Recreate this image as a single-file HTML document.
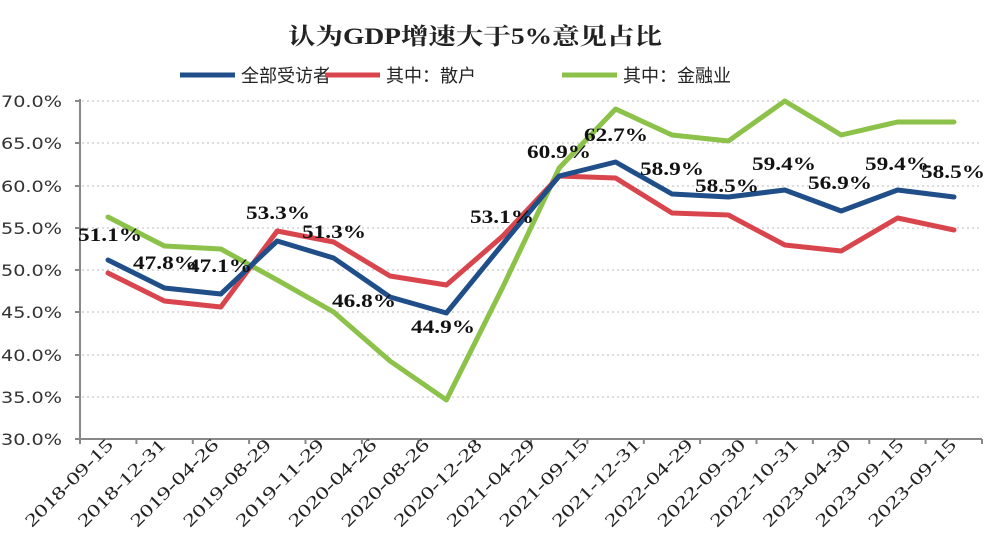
<!DOCTYPE html>
<html><head><meta charset="utf-8"><style>body{margin:0;background:#fff}</style></head><body>
<svg width="996" height="552" xmlns="http://www.w3.org/2000/svg">
<rect width="996" height="552" fill="#fff"/>
<text x="288" y="44" textLength="374" lengthAdjust="spacingAndGlyphs" font-family="Liberation Serif, Noto Serif CJK SC, serif" font-weight="bold" font-size="23" fill="#222">认为GDP增速大于5%意见占比</text>
<g font-family="Liberation Sans, Noto Sans CJK SC, sans-serif" font-size="18" fill="#222">
<line x1="180" y1="75" x2="235" y2="75" stroke="#1f4e89" stroke-width="5"/><text x="241" y="82">全部受访者</text>
<line x1="325" y1="75" x2="380" y2="75" stroke="#d9454c" stroke-width="5"/><text x="386" y="82">其中：散户</text>
<line x1="562" y1="75" x2="617" y2="75" stroke="#8cc14a" stroke-width="5"/><text x="623" y="82">其中：金融业</text>
</g>
<g stroke="#bbb" stroke-width="1" stroke-dasharray="2,3">
<line x1="82" x2="982" y1="101" y2="101"/><line x1="82" x2="982" y1="143" y2="143"/><line x1="82" x2="982" y1="186" y2="186"/><line x1="82" x2="982" y1="228" y2="228"/><line x1="82" x2="982" y1="270" y2="270"/><line x1="82" x2="982" y1="312" y2="312"/><line x1="82" x2="982" y1="355" y2="355"/><line x1="82" x2="982" y1="397" y2="397"/>
</g>
<g stroke="#888" stroke-width="2" fill="none">
<line x1="80" y1="99" x2="80" y2="440"/><line x1="80" y1="439" x2="982" y2="439"/>
<path d="M75 101H80M75 143H80M75 186H80M75 228H80M75 270H80M75 312H80M75 355H80M75 397H80M75 439H80"/>
<path d="M80 439v5M136.4 439v5M192.8 439v5M249.1 439v5M305.5 439v5M361.9 439v5M418.3 439v5M474.6 439v5M531 439v5M587.4 439v5M643.8 439v5M700.1 439v5M756.5 439v5M812.9 439v5M869.3 439v5M925.6 439v5M982 439v5"/>
</g>
<g font-family="DejaVu Sans, sans-serif" font-size="16" fill="#333">
<text x="1" y="107" textLength="61" lengthAdjust="spacingAndGlyphs">70.0%</text><text x="1" y="149" textLength="61" lengthAdjust="spacingAndGlyphs">65.0%</text><text x="1" y="192" textLength="61" lengthAdjust="spacingAndGlyphs">60.0%</text><text x="1" y="234" textLength="61" lengthAdjust="spacingAndGlyphs">55.0%</text><text x="1" y="276" textLength="61" lengthAdjust="spacingAndGlyphs">50.0%</text><text x="1" y="318" textLength="61" lengthAdjust="spacingAndGlyphs">45.0%</text><text x="1" y="361" textLength="61" lengthAdjust="spacingAndGlyphs">40.0%</text><text x="1" y="403" textLength="61" lengthAdjust="spacingAndGlyphs">35.0%</text><text x="1" y="445" textLength="61" lengthAdjust="spacingAndGlyphs">30.0%</text>
</g>
<g font-family="Liberation Serif, serif" font-size="18" fill="#222">
<text transform="translate(32,528) rotate(-45)" textLength="116" lengthAdjust="spacingAndGlyphs">2018-09-15</text>
<text transform="translate(84.7,528) rotate(-45)" textLength="116" lengthAdjust="spacingAndGlyphs">2018-12-31</text>
<text transform="translate(137.4,528) rotate(-45)" textLength="116" lengthAdjust="spacingAndGlyphs">2019-04-26</text>
<text transform="translate(190.1,528) rotate(-45)" textLength="116" lengthAdjust="spacingAndGlyphs">2019-08-29</text>
<text transform="translate(242.8,528) rotate(-45)" textLength="116" lengthAdjust="spacingAndGlyphs">2019-11-29</text>
<text transform="translate(295.5,528) rotate(-45)" textLength="116" lengthAdjust="spacingAndGlyphs">2020-04-26</text>
<text transform="translate(348.2,528) rotate(-45)" textLength="116" lengthAdjust="spacingAndGlyphs">2020-08-26</text>
<text transform="translate(400.9,528) rotate(-45)" textLength="116" lengthAdjust="spacingAndGlyphs">2020-12-28</text>
<text transform="translate(453.6,528) rotate(-45)" textLength="116" lengthAdjust="spacingAndGlyphs">2021-04-29</text>
<text transform="translate(506.3,528) rotate(-45)" textLength="116" lengthAdjust="spacingAndGlyphs">2021-09-15</text>
<text transform="translate(559,528) rotate(-45)" textLength="116" lengthAdjust="spacingAndGlyphs">2021-12-31</text>
<text transform="translate(611.7,528) rotate(-45)" textLength="116" lengthAdjust="spacingAndGlyphs">2022-04-29</text>
<text transform="translate(664.4,528) rotate(-45)" textLength="116" lengthAdjust="spacingAndGlyphs">2022-09-30</text>
<text transform="translate(717.1,528) rotate(-45)" textLength="116" lengthAdjust="spacingAndGlyphs">2022-10-31</text>
<text transform="translate(769.8,528) rotate(-45)" textLength="116" lengthAdjust="spacingAndGlyphs">2023-04-30</text>
<text transform="translate(822.5,528) rotate(-45)" textLength="116" lengthAdjust="spacingAndGlyphs">2023-09-15</text>
<text transform="translate(875.2,528) rotate(-45)" textLength="116" lengthAdjust="spacingAndGlyphs">2023-09-15</text>
</g>
<g fill="none" stroke-width="5" stroke-linejoin="round" stroke-linecap="round">
<polyline stroke="#8cc14a" points="108,217 164.4,246 220.8,249 277.2,280 333.6,312 390,361 446.4,400 502.8,287 559.2,168 615.6,109 672,135 728.4,141 784.8,101 841.2,135 897.6,122 954,122"/>
<polyline stroke="#d9454c" points="108,273 164.4,301 220.8,307 277.2,231 333.6,242 390,276 446.4,285 502.8,236 559.2,176 615.6,178 672,213 728.4,215 784.8,245 841.2,251 897.6,218 954,230"/>
<polyline stroke="#1f4e89" points="108,260 164.4,288 220.8,294 277.2,241 333.6,258 390,297 446.4,313 502.8,244 559.2,176 615.6,162 672,194 728.4,197 784.8,190 841.2,211 897.6,190 954,197"/>
</g>
<g font-family="Liberation Serif, serif" font-weight="bold" font-size="19" fill="#111">
<text x="78" y="241" textLength="64" lengthAdjust="spacingAndGlyphs">51.1%</text><text x="133" y="269" textLength="64" lengthAdjust="spacingAndGlyphs">47.8%</text><text x="188" y="272" textLength="64" lengthAdjust="spacingAndGlyphs">47.1%</text><text x="246" y="219" textLength="64" lengthAdjust="spacingAndGlyphs">53.3%</text><text x="302" y="238" textLength="64" lengthAdjust="spacingAndGlyphs">51.3%</text><text x="332" y="307" textLength="64" lengthAdjust="spacingAndGlyphs">46.8%</text><text x="411" y="333" textLength="64" lengthAdjust="spacingAndGlyphs">44.9%</text><text x="470" y="223" textLength="64" lengthAdjust="spacingAndGlyphs">53.1%</text><text x="527" y="158" textLength="64" lengthAdjust="spacingAndGlyphs">60.9%</text><text x="584" y="141" textLength="64" lengthAdjust="spacingAndGlyphs">62.7%</text><text x="640" y="175" textLength="64" lengthAdjust="spacingAndGlyphs">58.9%</text><text x="695" y="192" textLength="64" lengthAdjust="spacingAndGlyphs">58.5%</text><text x="752" y="170" textLength="64" lengthAdjust="spacingAndGlyphs">59.4%</text><text x="808" y="189" textLength="64" lengthAdjust="spacingAndGlyphs">56.9%</text><text x="865" y="170" textLength="64" lengthAdjust="spacingAndGlyphs">59.4%</text><text x="921" y="178" textLength="64" lengthAdjust="spacingAndGlyphs">58.5%</text>
</g>
</svg>
</body></html>
